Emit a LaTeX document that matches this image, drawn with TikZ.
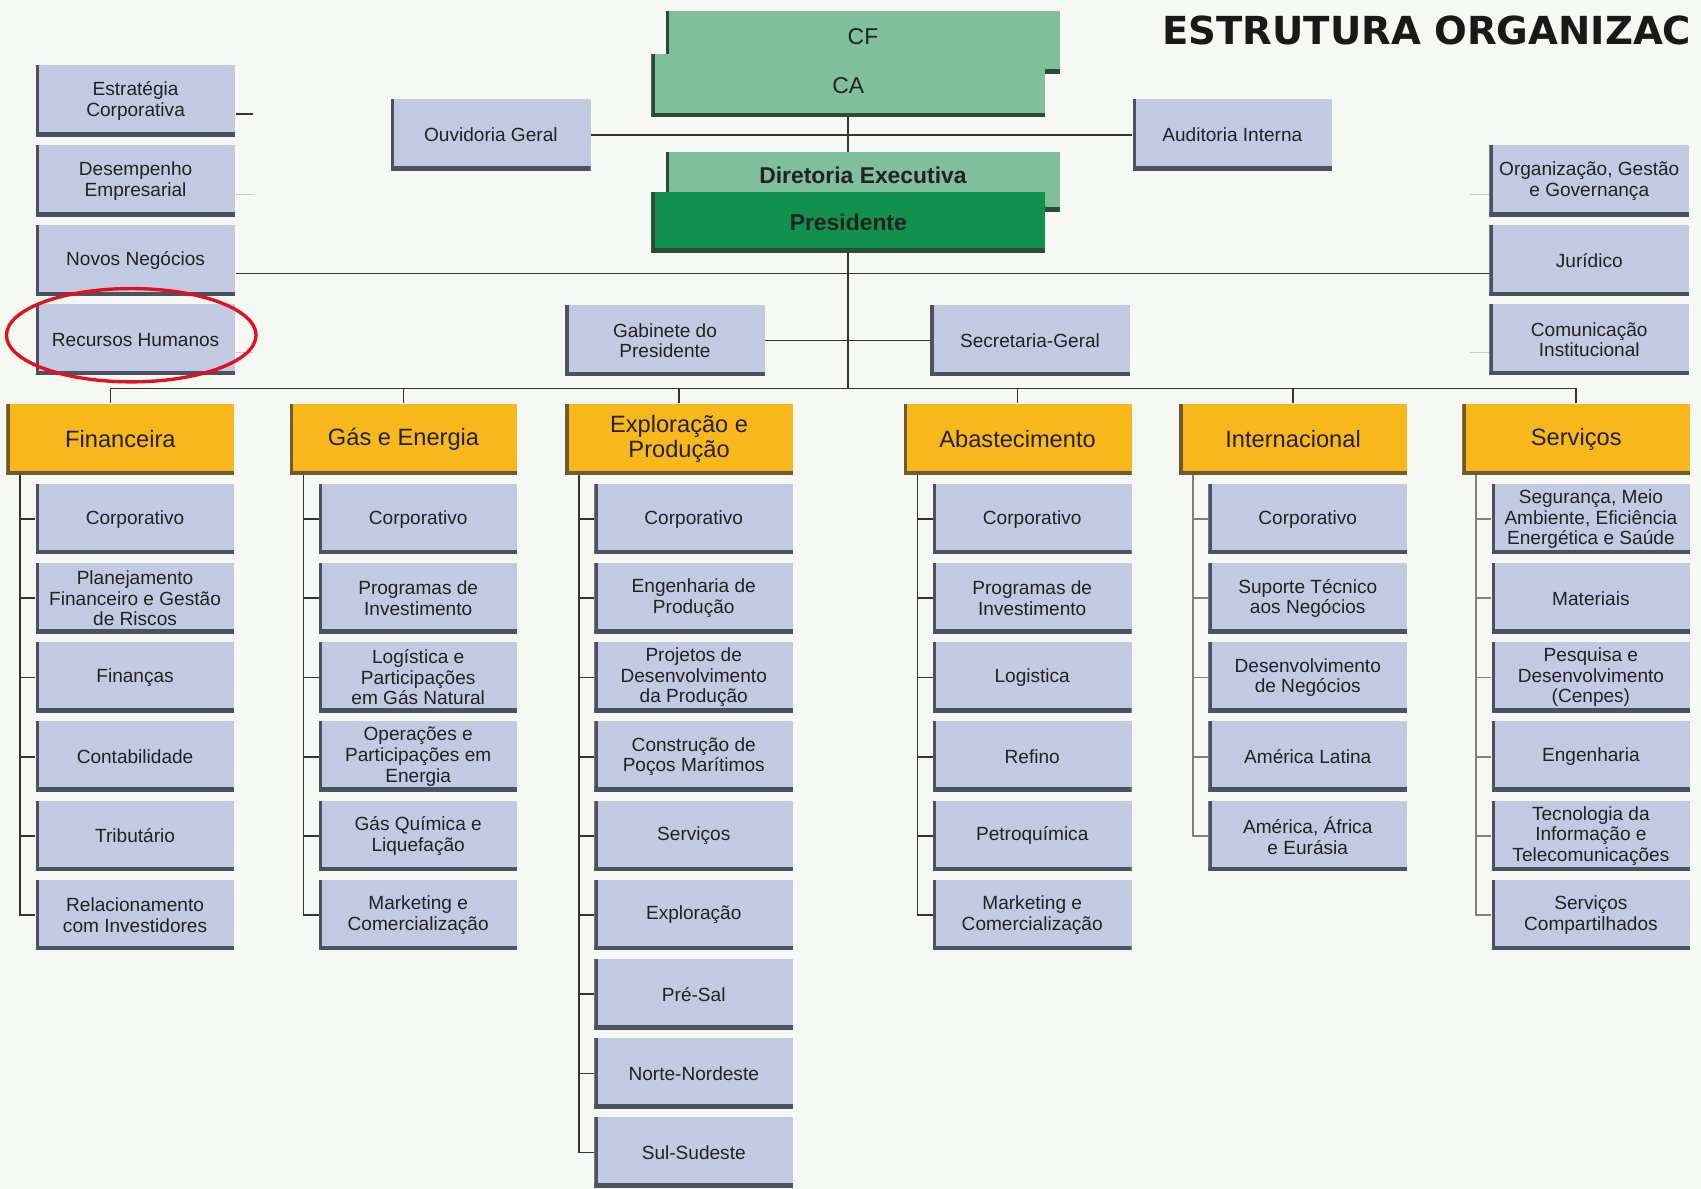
\documentclass[tikz,border=0pt]{standalone}
\usepackage{fontspec}
\setmainfont{Liberation Sans}
\newfontfamily\titlefont{DejaVu Sans}
\usetikzlibrary{positioning}

\definecolor{fundo}{HTML}{F6F8F4}
\definecolor{caixa}{HTML}{C2CAE3}
\definecolor{caixaborda}{HTML}{4D5260}
\definecolor{laranja}{HTML}{F8B81C}
\definecolor{laranjaborda}{HTML}{6E5A34}
\definecolor{verdeclaro}{HTML}{7FBF9C}
\definecolor{verdeescuro}{HTML}{12904E}
\definecolor{verdeborda}{HTML}{2C4A38}
\definecolor{linha}{HTML}{333333}
\definecolor{texto}{HTML}{222222}
\definecolor{vermelho}{HTML}{E3101E}

\pgfdeclarelayer{bg}
\pgfsetlayers{bg,main}

\tikzset{
  bevel/.style={path picture={
      \fill[#1] (path picture bounding box.south west) rectangle ([xshift=2.2pt]path picture bounding box.north west);
      \fill[#1] (path picture bounding box.south west) rectangle ([yshift=3pt]path picture bounding box.south east);}},
  unidade/.style={fill=caixa, bevel=caixaborda, minimum width=4.575cm, minimum height=1.625cm,
      inner sep=1pt, align=center, text=texto, font=\fontsize{12.5}{13.5}\selectfont},
  staff/.style={unidade, minimum width=4.6cm, minimum height=1.65cm},
  diretoria/.style={unidade, fill=laranja, bevel=laranjaborda, minimum width=5.25cm, minimum height=1.65cm,
      font=\fontsize{15.5}{16.5}\selectfont},
  conselho/.style={unidade, fill=verdeclaro, bevel=verdeborda, minimum width=9.075cm, minimum height=1.45cm,
      font=\fontsize{15}{17}\selectfont},
  ligacao/.style={draw=linha, line width=1.1pt},
  ligacaofraca/.style={draw=gray!45, line width=0.8pt},
}

\begin{document}
\begin{tikzpicture}[x=0.025cm, y=-0.025cm]
\useasboundingbox (0,0) rectangle (1568,1096);
\clip (0,0) rectangle (1568,1096);
\begin{pgfonlayer}{bg}
\fill[fundo] (0,0) rectangle (1568,1096);
\end{pgfonlayer}

% titulo
\node[anchor=base west, inner sep=0pt, font=\titlefont\bfseries\fontsize{25.3}{30}\selectfont, text=black!90] (titulo) at (1071,41) {ESTRUTURA ORGANIZAC};

% conselhos e presidencia
\node[conselho, text depth=7pt] (cf) at (795.5,39) {CF};
\node[conselho, minimum height=1.45cm] (ca) at (782,79) {CA};
\node[conselho, minimum height=1.375cm, text depth=9pt, font=\fontsize{15}{17}\selectfont\bfseries] (diret) at (795.5,167.5) {Diretoria Executiva};
\node[conselho, fill=verdeescuro, minimum height=1.4cm, font=\fontsize{15}{17}\selectfont\bfseries] (pres) at (782,205) {Presidente};

% orgaos de apoio
\node[staff] (estrat) at (125,93) {Estratégia\\Corporativa};
\node[staff] (desemp) at (125,167) {Desempenho\\Empresarial};
\node[staff] (novos) at (125,240) {Novos Negócios};
\node[staff] (rh) at (125,313) {Recursos Humanos};
\node[staff] (ouvid) at (452.5,124.5) {Ouvidoria Geral};
\node[staff] (audit) at (1136,124.5) {Auditoria Interna};
\node[staff] (org) at (1465,167) {Organização, Gestão\\e Governança};
\node[staff] (jurid) at (1465,240) {Jurídico};
\node[staff] (comun) at (1465,313) {Comunicação\\Institucional};
\node[staff] (gabin) at (613,314) {Gabinete do\\Presidente};
\node[staff] (secret) at (949.5,314) {Secretaria-Geral};

% diretorias
\node[diretoria] (fin) at (111,405) {Financeira};
\node[diretoria] (gas) at (372,405) {Gás e Energia};
\node[diretoria] (ep) at (626,405) {Exploração e\\Produção};
\node[diretoria] (abs) at (938,405) {Abastecimento};
\node[diretoria] (intl) at (1192,405) {Internacional};
\node[diretoria] (serv) at (1453,405) {Serviços};

% financeira
\node[unidade] (fin1) at (124.5,478.5) {Corporativo};
\node[unidade] (fin2) at (124.5,551.5) {Planejamento\\Financeiro e Gestão\\de Riscos};
\node[unidade] (fin3) at (124.5,624.5) {Finanças};
\node[unidade] (fin4) at (124.5,697.5) {Contabilidade};
\node[unidade] (fin5) at (124.5,770.5) {Tributário};
\node[unidade] (fin6) at (124.5,843.5) {Relacionamento\\com Investidores};

% gas e energia
\node[unidade] (gas1) at (385.5,478.5) {Corporativo};
\node[unidade] (gas2) at (385.5,551.5) {Programas de\\Investimento};
\node[unidade] (gas3) at (385.5,624.5) {Logística e\\Participações\\em Gás Natural};
\node[unidade] (gas4) at (385.5,697.5) {Operações e\\Participações em\\Energia};
\node[unidade] (gas5) at (385.5,770.5) {Gás Química e\\Liquefação};
\node[unidade] (gas6) at (385.5,843.5) {Marketing e\\Comercialização};

% exploracao e producao
\node[unidade] (ep1) at (639.5,478.5) {Corporativo};
\node[unidade] (ep2) at (639.5,551.5) {Engenharia de\\Produção};
\node[unidade] (ep3) at (639.5,624.5) {Projetos de\\Desenvolvimento\\da Produção};
\node[unidade] (ep4) at (639.5,697.5) {Construção de\\Poços Marítimos};
\node[unidade] (ep5) at (639.5,770.5) {Serviços};
\node[unidade] (ep6) at (639.5,843.5) {Exploração};
\node[unidade] (ep7) at (639.5,916.5) {Pré-Sal};
\node[unidade] (ep8) at (639.5,989.5) {Norte-Nordeste};
\node[unidade] (ep9) at (639.5,1062.5) {Sul-Sudeste};

% abastecimento
\node[unidade] (abs1) at (951.5,478.5) {Corporativo};
\node[unidade] (abs2) at (951.5,551.5) {Programas de\\Investimento};
\node[unidade] (abs3) at (951.5,624.5) {Logistica};
\node[unidade] (abs4) at (951.5,697.5) {Refino};
\node[unidade] (abs5) at (951.5,770.5) {Petroquímica};
\node[unidade] (abs6) at (951.5,843.5) {Marketing e\\Comercialização};

% internacional
\node[unidade] (intl1) at (1205.5,478.5) {Corporativo};
\node[unidade] (intl2) at (1205.5,551.5) {Suporte Técnico\\aos Negócios};
\node[unidade] (intl3) at (1205.5,624.5) {Desenvolvimento\\de Negócios};
\node[unidade] (intl4) at (1205.5,697.5) {América Latina};
\node[unidade] (intl5) at (1205.5,770.5) {América, África\\e Eurásia};

% servicos
\node[unidade] (serv1) at (1466.5,478.5) {Segurança, Meio\\Ambiente, Eficiência\\Energética e Saúde};
\node[unidade] (serv2) at (1466.5,551.5) {Materiais};
\node[unidade] (serv3) at (1466.5,624.5) {Pesquisa e\\Desenvolvimento\\(Cenpes)};
\node[unidade] (serv4) at (1466.5,697.5) {Engenharia};
\node[unidade] (serv5) at (1466.5,770.5) {Tecnologia da\\Informação e\\Telecomunicações};
\node[unidade] (serv6) at (1466.5,843.5) {Serviços\\Compartilhados};

\coordinate (bar) at (782,358);

\begin{pgfonlayer}{bg}
% ligacoes do topo
\draw[ligacao] (ca.south) -- (ca.south |- diret.north);
\draw[ligacao] (ouvid.east) -- (audit.west);
\draw[ligacao] (pres.south) -- (bar);
\draw[ligacao] ([yshift=-0.3cm]novos.east) -- ([yshift=-0.3cm]jurid.west);
\draw[ligacao] (gabin.east) -- (secret.west);
\draw[ligacao] ([yshift=-0.3cm]estrat.east) -- ++(0.4cm,0);
\draw[ligacaofraca] ([yshift=-0.3cm]desemp.east) -- ++(0.4cm,0);
\draw[ligacaofraca] ([yshift=-0.3cm]rh.east) -- ++(0.4cm,0);
\draw[ligacaofraca] ([yshift=-0.3cm]org.west) -- ++(-0.45cm,0);
\draw[ligacaofraca] ([yshift=-0.3cm]comun.west) -- ++(-0.45cm,0);

% barra das diretorias
\draw[ligacao] ([xshift=-0.225cm]fin.north |- bar) -- (serv.north |- bar);
\draw[ligacao] ([xshift=-0.225cm]fin.north) -- ([xshift=-0.225cm]fin.north |- bar);
\draw[ligacao] (gas.north) -- (gas.north |- bar);
\draw[ligacao] (ep.north) -- (ep.north |- bar);
\draw[ligacao] (abs.north) -- (abs.north |- bar);
\draw[ligacao] (intl.north) -- (intl.north |- bar);
\draw[ligacao] (serv.north) -- (serv.north |- bar);

% colunas
\coordinate (fint) at ([xshift=0.325cm]fin.south west);
\coordinate (gast) at ([xshift=0.325cm]gas.south west);
\coordinate (ept) at ([xshift=0.325cm]ep.south west);
\coordinate (abst) at ([xshift=0.325cm]abs.south west);
\coordinate (intlt) at ([xshift=0.325cm]intl.south west);
\coordinate (servt) at ([xshift=0.325cm]serv.south west);
\draw[ligacao] (fint) |- (fin6.west) (fin1.west -| fint) -- (fin1.west) (fin2.west -| fint) -- (fin2.west)
  (fin3.west -| fint) -- (fin3.west) (fin4.west -| fint) -- (fin4.west) (fin5.west -| fint) -- (fin5.west);
\draw[ligacao] (gast) |- (gas6.west) (gas1.west -| gast) -- (gas1.west) (gas2.west -| gast) -- (gas2.west)
  (gas3.west -| gast) -- (gas3.west) (gas4.west -| gast) -- (gas4.west) (gas5.west -| gast) -- (gas5.west);
\draw[ligacao] (ept) |- (ep9.west) (ep1.west -| ept) -- (ep1.west) (ep2.west -| ept) -- (ep2.west)
  (ep3.west -| ept) -- (ep3.west) (ep4.west -| ept) -- (ep4.west) (ep5.west -| ept) -- (ep5.west)
  (ep6.west -| ept) -- (ep6.west) (ep7.west -| ept) -- (ep7.west) (ep8.west -| ept) -- (ep8.west);
\draw[ligacao] (abst) |- (abs6.west) (abs1.west -| abst) -- (abs1.west) (abs2.west -| abst) -- (abs2.west)
  (abs3.west -| abst) -- (abs3.west) (abs4.west -| abst) -- (abs4.west) (abs5.west -| abst) -- (abs5.west);
\draw[ligacao, draw=gray] (intlt) |- (intl5.west) (intl1.west -| intlt) -- (intl1.west) (intl2.west -| intlt) -- (intl2.west)
  (intl3.west -| intlt) -- (intl3.west) (intl4.west -| intlt) -- (intl4.west);
\draw[ligacao, draw=gray] (servt) |- (serv6.west) (serv1.west -| servt) -- (serv1.west) (serv2.west -| servt) -- (serv2.west)
  (serv3.west -| servt) -- (serv3.west) (serv4.west -| servt) -- (serv4.west) (serv5.west -| servt) -- (serv5.west);
\end{pgfonlayer}

% destaque
\draw[vermelho, line width=2.2pt] (121,309) ellipse [x radius=2.875cm, y radius=1.075cm];
\end{tikzpicture}
\end{document}
